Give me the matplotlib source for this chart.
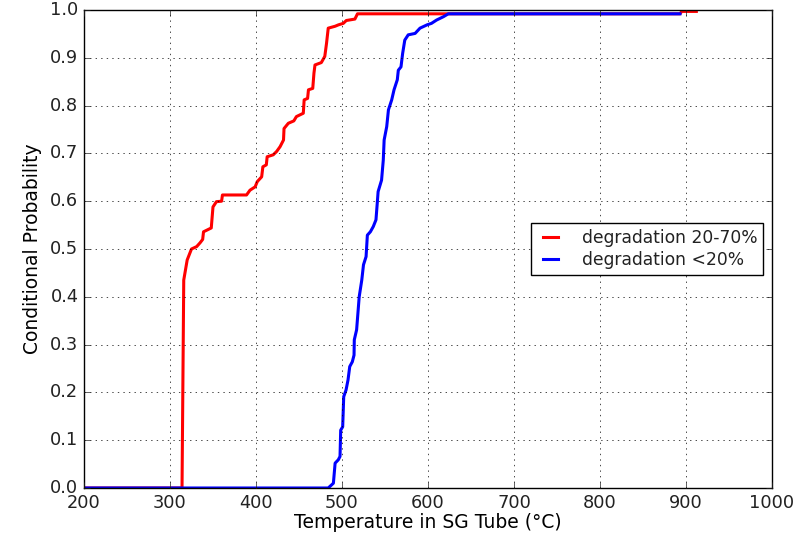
import matplotlib
matplotlib.use("Agg")
import matplotlib.pyplot as plt

# Curva roja: degradación 20-70%
temp_rojo = [200, 314, 316, 320, 325, 331, 335, 338, 339, 348, 350, 354, 360, 361,
             389, 393, 399, 401.5, 406.6, 408, 412, 413, 420, 424, 428, 432, 432.6,
             437.6, 444, 447, 455, 456, 460, 461, 466, 467.4, 468.6, 476, 480, 482,
             484, 492, 496, 501.5, 505, 515, 518, 893, 895, 912]
prob_rojo = [0, 0, 0.435, 0.477, 0.50, 0.505, 0.513, 0.52, 0.536, 0.544, 0.588, 0.599,
             0.600, 0.613, 0.613, 0.623, 0.63, 0.641, 0.651, 0.672, 0.676, 0.693,
             0.697, 0.704, 0.714, 0.728, 0.752, 0.763, 0.768, 0.777, 0.784, 0.812,
             0.815, 0.833, 0.836, 0.868, 0.885, 0.890, 0.903, 0.930, 0.962, 0.966,
             0.969, 0.972, 0.978, 0.981, 0.992, 0.992, 0.997, 0.997]

# Curva azul: degradación <20%
temp_azul = [200, 484, 490, 492, 495.7, 497.7, 498.5, 500.8, 502, 504.7, 507, 509,
             512, 514, 514.3, 517, 520, 523, 525, 528, 529.5, 533, 536.4, 539.5, 541,
             542, 546, 548, 549, 552, 554, 557.8, 560.5, 564.3, 565.5, 568.6, 570.5,
             573, 577, 585, 590.7, 599, 604, 610, 618, 623.6, 893]
prob_azul = [0, 0, 0.01, 0.052, 0.059, 0.066, 0.121, 0.128, 0.191, 0.205, 0.226,
             0.254, 0.264, 0.278, 0.310, 0.331, 0.400, 0.435, 0.467, 0.484, 0.529,
             0.536, 0.547, 0.561, 0.596, 0.62, 0.644, 0.686, 0.728, 0.756, 0.791,
             0.812, 0.833, 0.854, 0.874, 0.881, 0.909, 0.937, 0.948, 0.951, 0.962,
             0.969, 0.972, 0.979, 0.986, 0.992, 0.992]

etiquetas = ["degradation 20-70%", "degradation <20%"]

plt.style.use("classic")
plt.rcParams["figure.facecolor"] = "white"
plt.rcParams["savefig.facecolor"] = "white"
plt.rcParams["font.family"] = "DejaVu Sans"
plt.rcParams["font.size"] = 12.8
plt.rcParams["text.color"] = "#222222"
plt.rcParams["xtick.color"] = "#222222"
plt.rcParams["ytick.color"] = "#222222"

fig = plt.figure(figsize=(8.09, 5.4), dpi=100)
ax = fig.add_axes([0.1038, 0.0963, 0.8505, 0.8852])

ax.plot(temp_rojo, prob_rojo, color="red", lw=2.2, label=etiquetas[0])
ax.plot(temp_azul, prob_azul, color="blue", lw=2.2, label=etiquetas[1])

ax.set_xlim(200, 1000)
ax.set_ylim(0, 1.0)
ax.set_xticks(range(200, 1001, 100))
ax.set_yticks([i / 10 for i in range(11)])
ax.set_xlabel("Temperature in SG Tube (°C)", fontsize=13.5, labelpad=1)
ax.set_ylabel("Conditional Probability", fontsize=13.5, labelpad=6)
ax.grid(True)
ax.legend(loc="center right", fontsize=12.3, handlelength=1.5, handletextpad=1.1,
          labelspacing=0.25, borderpad=0.35)

fig.savefig("out.png", dpi=100)
